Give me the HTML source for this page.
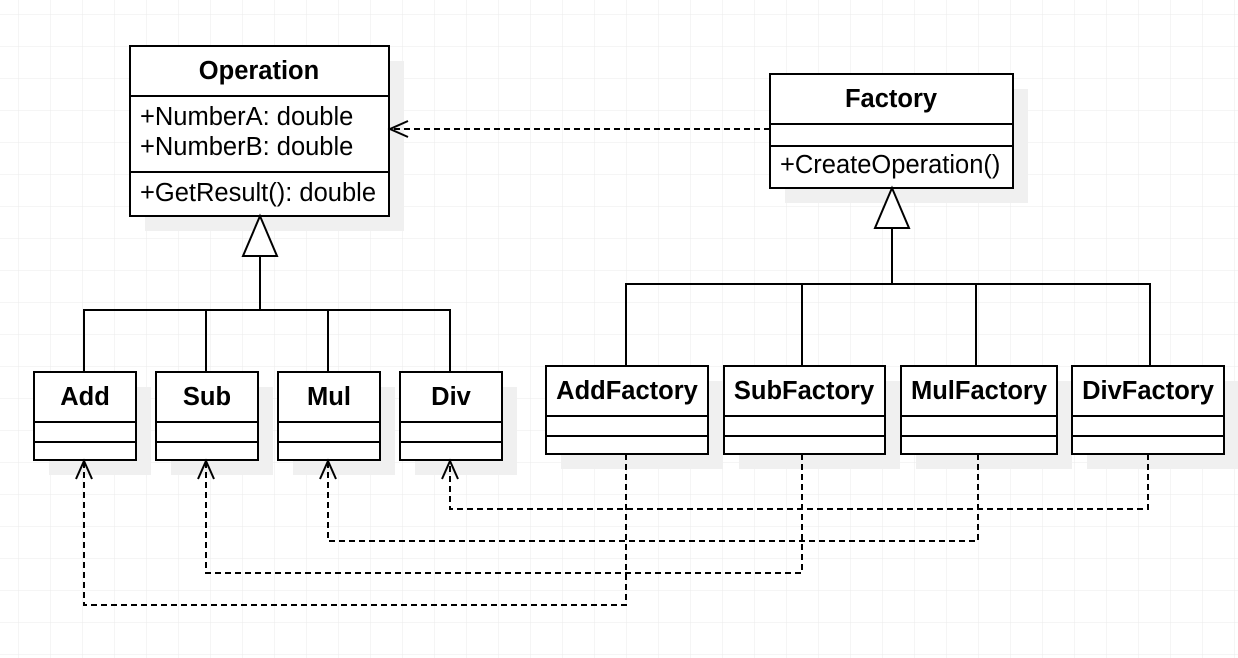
<!DOCTYPE html>
<html><head><meta charset="utf-8"><style>
html,body{margin:0;padding:0;background:#fff;}
svg{display:block;font-family:"Liberation Sans",sans-serif;}
</style></head><body>
<svg width="1238" height="658" viewBox="0 0 1238 658" xmlns="http://www.w3.org/2000/svg">
<defs>
<pattern id="g" x="18" y="14" width="32" height="32" patternUnits="userSpaceOnUse">
<path d="M0 0H32M0 0V32" stroke="#ebebeb" stroke-width="1" fill="none"/>
</pattern>
</defs>
<rect width="1238" height="658" fill="url(#g)"/>
<g fill="#f0f0f0">
<rect x="145" y="61" width="259" height="170"/>
<rect x="785" y="89" width="243" height="114"/>
<rect x="49" y="387" width="102" height="88"/>
<rect x="171" y="387" width="102" height="88"/>
<rect x="293" y="387" width="102" height="88"/>
<rect x="415" y="387" width="102" height="88"/>
<rect x="561" y="381" width="162" height="88"/>
<rect x="739" y="381" width="161" height="88"/>
<rect x="916" y="381" width="156" height="88"/>
<rect x="1087" y="381" width="152" height="88"/>
</g>
<g fill="#fff" stroke="#000" stroke-width="2">
<rect x="130" y="46" width="259" height="170"/>
<line x1="130" y1="96" x2="389" y2="96"/><line x1="130" y1="172" x2="389" y2="172"/>
<rect x="770" y="74" width="243" height="114"/>
<line x1="770" y1="124" x2="1013" y2="124"/><line x1="770" y1="146" x2="1013" y2="146"/>
<rect x="34" y="372" width="102" height="88"/><line x1="34" y1="422" x2="136" y2="422"/><line x1="34" y1="442" x2="136" y2="442"/>
<rect x="156" y="372" width="102" height="88"/><line x1="156" y1="422" x2="258" y2="422"/><line x1="156" y1="442" x2="258" y2="442"/>
<rect x="278" y="372" width="102" height="88"/><line x1="278" y1="422" x2="380" y2="422"/><line x1="278" y1="442" x2="380" y2="442"/>
<rect x="400" y="372" width="102" height="88"/><line x1="400" y1="422" x2="502" y2="422"/><line x1="400" y1="442" x2="502" y2="442"/>
<rect x="546" y="366" width="162" height="88"/><line x1="546" y1="416" x2="708" y2="416"/><line x1="546" y1="436" x2="708" y2="436"/>
<rect x="724" y="366" width="161" height="88"/><line x1="724" y1="416" x2="885" y2="416"/><line x1="724" y1="436" x2="885" y2="436"/>
<rect x="901" y="366" width="156" height="88"/><line x1="901" y1="416" x2="1057" y2="416"/><line x1="901" y1="436" x2="1057" y2="436"/>
<rect x="1072" y="366" width="152" height="88"/><line x1="1072" y1="416" x2="1224" y2="416"/><line x1="1072" y1="436" x2="1224" y2="436"/>
</g>
<g fill="none" stroke="#000" stroke-width="2">
<path d="M260 256V310M84 372V310H450V372M206 310V372M328 310V372"/>
<path d="M892 228V284M626 366V284H1150V366M802 284V366M976 284V366"/>
</g>
<g fill="#fff" stroke="#000" stroke-width="2">
<path d="M260 216L243 256H277Z"/>
<path d="M892 188L875 228H909Z"/>
</g>
<g fill="none" stroke="#000" stroke-width="2" stroke-dasharray="6 4">
<path d="M770 129H391"/>
<path d="M626 454V605H84V462"/>
<path d="M802 454V573H206V462"/>
<path d="M978 454V541H328V462"/>
<path d="M1148 454V509H450V462"/>
</g>
<g fill="none" stroke="#000" stroke-width="2">
<path d="M408 121L390 129L408 137"/>
<path d="M76 479L84 461L92 479"/>
<path d="M198 479L206 461L214 479"/>
<path d="M320 479L328 461L336 479"/>
<path d="M442 479L450 461L458 479"/>
</g>
<g font-size="25.5" fill="#000">
<g font-weight="bold" text-anchor="middle">
<text x="259" y="79">Operation</text>
<text x="891" y="107">Factory</text>
<text x="85" y="405">Add</text>
<text x="207" y="405">Sub</text>
<text x="329" y="405">Mul</text>
<text x="451" y="405">Div</text>
<text x="627" y="399">AddFactory</text>
<text x="804" y="399">SubFactory</text>
<text x="979" y="399">MulFactory</text>
<text x="1148" y="399">DivFactory</text>
</g>
<text x="140" y="125">+NumberA: double</text>
<text x="140" y="155">+NumberB: double</text>
<text x="140" y="201">+GetResult(): double</text>
<text x="780" y="173">+CreateOperation()</text>
</g>
</svg>
</body></html>
